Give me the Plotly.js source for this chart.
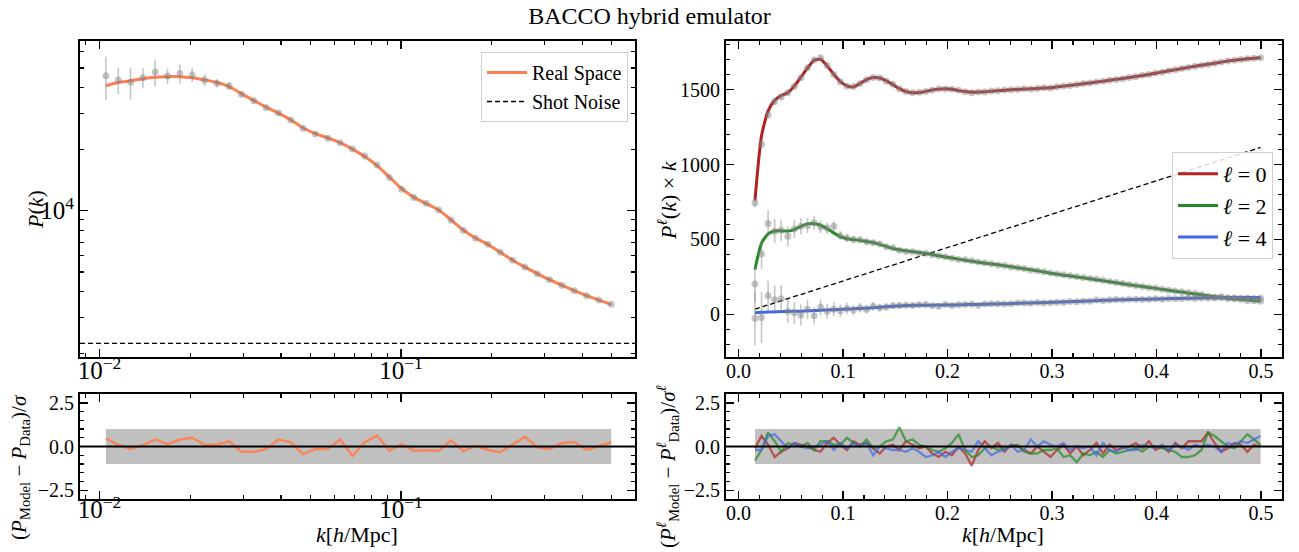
<!DOCTYPE html>
<html><head><meta charset="utf-8">
<script src="https://cdn.plot.ly/plotly-3.0.1.min.js"></script>
<style>html,body{margin:0;padding:0;background:#fff}#plot{width:1299px;height:552px}</style>
</head><body><div id="plot"></div>
<script>
// ---------- Real-space panel (log-spaced k) ----------
const kReal = [0.01050,0.01154,0.01268,0.01393,0.01530,0.01681,0.01847,0.02029,0.02230,0.02450,
  0.02691,0.02957,0.03249,0.03569,0.03922,0.04309,0.04734,0.05201,0.05715,0.06279,
  0.06898,0.07579,0.08327,0.09149,0.1005,0.1104,0.1213,0.1333,0.1465,0.1609,
  0.1768,0.1943,0.2134,0.2345,0.2576,0.2831,0.3110,0.3417,0.3754,0.4125,0.4532,0.4979];
const pRealData = [45800,43600,42500,44800,47800,45600,46900,46200,43600,42100,
  40800,37100,34500,32000,30100,27800,25300,23700,22600,21500,
  20000,18500,16700,14500,12700,11600,10850,10050,8980,8000,
  7310,6830,6240,5700,5290,4900,4580,4300,4040,3820,3640,3470];
const pRealErr = [11000,6500,7700,5000,7200,3900,5100,3700,3000,1900,
  1800,1100,900,700,600,500,420,360,320,280,
  240,200,180,160,140,120,100,90,80,70,
  60,55,50,45,40,36,32,29,26,24,22,20];
const pRealModel = [40900,42400,43300,44300,45000,45300,45300,44800,43700,42400,
  40500,37400,34600,32100,30000,27800,25400,23800,22700,21500,
  20000,18400,16600,14600,12800,11600,10800,10050,9000,8030,
  7330,6820,6240,5710,5280,4910,4580,4300,4050,3830,3640,3470];
const residReal = [0.45,0.1,-0.14,0.08,0.4,0.14,0.4,0.5,0.1,0.1,
  0.3,-0.3,-0.3,-0.15,0.4,0.24,-0.43,-0.15,-0.14,0.4,
  -0.53,0.24,0.63,-0.24,0.14,-0.24,-0.22,-0.26,0.35,-0.26,
  0.04,-0.2,-0.33,0.1,0.55,-0.04,-0.14,0.2,0.26,-0.2,0.0,0.24];
const shotNoise = 2230;

// ---------- Multipoles panel (linear k) ----------
const kPole = [0.0157,0.0220,0.0283,0.0346,0.0408,0.0471,0.0534,0.0597,0.0660,0.0723,
  0.0785,0.0848,0.0911,0.0974,0.1037,0.1100,0.1162,0.1225,0.1288,0.1351,
  0.1414,0.1477,0.1539,0.1602,0.1665,0.1728,0.1791,0.1854,0.1916,0.1979,
  0.2042,0.2105,0.2168,0.2231,0.2293,0.2356,0.2419,0.2482,0.2545,0.2608,
  0.2670,0.2733,0.2796,0.2859,0.2922,0.2985,0.3047,0.3110,0.3173,0.3236,
  0.3299,0.3362,0.3424,0.3487,0.3550,0.3613,0.3676,0.3738,0.3801,0.3864,
  0.3927,0.3990,0.4053,0.4115,0.4178,0.4241,0.4304,0.4367,0.4430,0.4492,
  0.4555,0.4618,0.4681,0.4744,0.4807,0.4869,0.4932,0.4995];
const p0Model = [760,1192,1358,1428,1460,1479,1524,1583,1644,1695,
  1702,1658,1602,1553,1525,1518,1540,1567,1580,1577,
  1558,1533,1506,1486,1479,1480,1488,1497,1503,1505,
  1502,1493,1487,1483,1483,1485,1489,1493,1496,1499,
  1501,1503,1505,1507,1510,1512,1518,1523,1528,1533,
  1539,1544,1550,1556,1562,1568,1574,1580,1587,1594,
  1601,1609,1617,1625,1632,1640,1648,1655,1662,1669,
  1676,1683,1690,1696,1701,1705,1709,1712];
const p0Data = [745,1135,1330,1420,1450,1478,1522,1580,1645,1698,
  1712,1660,1600,1552,1522,1520,1541,1565,1580,1578,
  1556,1535,1505,1487,1478,1482,1487,1496,1505,1503,
  1502,1495,1486,1478,1484,1483,1490,1492,1497,1498,
  1501,1505,1503,1507,1512,1510,1518,1523,1527,1534,
  1540,1543,1551,1555,1562,1568,1573,1580,1586,1595,
  1600,1610,1616,1625,1632,1641,1647,1655,1663,1667,
  1675,1684,1690,1695,1701,1706,1709,1712];
const p0Err = [30,25,22,20,18,17,16,15,14,14,
  13,13,12,12,12,11,11,11,10,10,
  10,10,10,9,9,9,9,9,9,9,
  8,8,8,8,8,8,8,8,8,8,
  8,8,8,8,8,8,8,8,8,8,
  8,8,8,8,8,8,8,8,8,8,
  8,8,8,8,8,8,8,8,8,8,
  8,8,8,8,8,8,8,8];
const p2Model = [300,476,537,557,558,556,566,588,604,605,
  595,572,544,519,505,499,494,486,480,467,
  454,440,431,425,419,413,407,400,391,383,
  376,369,362,355,348,342,337,331,325,318,
  311,305,298,291,283,275,269,262,257,250,
  244,238,232,225,218,211,204,198,192,186,
  180,174,167,161,155,149,143,137,131,125,
  119,114,108,104,100,96,92,89];
const p2Data = [203,404,606,555,562,521,570,588,593,611,
  584,577,588,525,510,500,498,485,478,470,
  452,445,428,420,418,410,408,398,392,385,
  374,366,364,358,350,344,338,330,326,317,
  312,306,297,292,285,276,270,265,258,253,
  246,240,234,228,220,213,206,200,193,187,
  180,174,168,162,157,152,146,140,133,120,
  114,111,108,104,100,92,92,88];
const p2Err = [120,100,90,80,72,66,60,55,50,46,
  42,38,35,30,27,24,22,20,18,17,
  16,15,14,14,13,13,12,12,11,11,
  10,10,10,10,9,9,9,9,9,9,
  8,8,8,8,8,8,8,8,8,8,
  7,7,7,7,7,7,7,7,7,7,
  7,7,7,7,7,7,7,7,7,7,
  7,7,7,7,7,7,7,7];
const p4Model = [11,14,16,18,19,20,21,22,24,26,
  28,30,32,34,36,38,40,42,45,48,
  52,55,57,59,60,61,62,62,63,63,
  63,64,65,66,67,68,69,70,71,73,
  74,76,77,78,79,81,82,84,85,87,
  88,90,92,94,95,97,98,99,100,101,
  102,103,104,105,106,107,108,109,110,111,
  112,112,112,113,113,113,113,113];
const p4Data = [-25,-21,125,98,105,22,11,-4,34,-9,
  48,22,35,25,40,30,45,35,55,45,
  50,58,60,62,60,64,66,58,55,66,
  60,64,66,68,62,70,72,72,70,72,
  76,76,74,80,76,78,82,80,86,85,
  88,88,96,92,96,100,98,102,102,100,
  102,104,102,106,104,106,110,107,110,110,
  112,118,110,112,110,110,107,110];
const p4Err = [180,170,100,95,90,80,75,70,64,58,
  54,50,46,42,38,35,32,30,28,26,
  24,22,20,19,18,17,16,15,14,14,
  13,13,12,12,12,11,11,11,11,10,
  10,10,10,10,10,10,10,10,10,10,
  10,10,10,10,10,10,10,10,10,10,
  10,10,10,10,10,10,10,10,10,10,
  10,10,10,10,10,10,10,10];
const resid0 = [-0.1,0.6,0.1,-0.6,-0.3,-0.1,0.2,0.1,0.0,-0.2,
  -0.3,0.2,0.5,0.1,-0.2,0.3,0.1,0.2,-0.1,-0.4,
  0.0,0.1,-0.2,0.3,0.1,-0.1,0.0,-0.4,-0.6,-0.3,
  -0.5,0.0,-0.4,-1.1,-0.2,0.3,-0.1,0.2,-0.3,0.1,
  0.0,-0.2,-0.4,0.0,-0.3,-0.6,-0.2,0.1,-0.4,0.0,
  -0.5,-0.2,0.2,-0.4,0.1,-0.2,-0.1,0.0,0.2,-0.1,
  0.3,-0.2,0.0,-0.3,0.2,-0.1,0.3,0.3,0.3,0.8,
  0.2,-0.3,-0.1,0.2,0.1,-0.3,0.1,0.0];
const resid2 = [-0.8,-0.2,0.8,0.3,-0.3,0.2,0.1,0.0,0.2,-0.2,
  0.3,0.3,0.1,0.1,0.5,0.2,0.0,0.4,-0.1,0.0,
  0.3,0.4,1.1,0.3,0.4,0.1,0.0,-0.2,-0.3,-0.1,
  0.2,0.7,-0.2,-0.6,-0.5,-0.1,0.0,-0.2,-0.1,0.0,
  0.1,-0.3,-0.4,-0.4,-0.2,-0.2,-0.1,-0.6,-0.5,-0.9,
  -0.4,-0.5,-0.3,-0.6,-0.2,-0.4,-0.3,-0.2,-0.1,-0.3,
  0.0,0.0,-0.1,-0.2,-0.3,-0.6,-0.6,-0.5,-0.2,0.8,
  0.6,0.3,0.0,-0.1,0.3,0.7,0.4,0.1];
const resid4 = [-0.2,-0.2,0.6,0.7,0.3,-0.1,0.2,0.0,-0.1,0.0,
  0.1,0.3,-0.2,0.2,-0.1,0.2,0.0,0.2,-0.5,0.0,
  -0.1,-0.2,-0.2,-0.3,-0.1,-0.3,-0.6,-0.5,-0.3,-0.6,
  -0.3,-0.1,-0.2,-0.3,0.3,-0.1,-0.5,-0.3,-0.2,0.1,
  -0.3,-0.2,0.4,0.0,0.3,0.1,0.0,0.2,-0.2,0.0,
  -0.1,0.0,-0.5,0.2,-0.2,-0.3,0.0,-0.2,-0.2,0.1,
  0.0,-0.1,0.1,-0.2,0.1,0.0,-0.2,0.1,0.0,0.1,
  0.0,-0.3,0.2,0.1,0.3,0.2,0.4,0.6];

const poleNames = ['<i>ℓ</i> = 0', '<i>ℓ</i> = 2', '<i>ℓ</i> = 4'];
const sigmaBand = 1;

// ---------- styling ----------
const SERIF = 'Liberation Serif';
const C_ORANGE = '#FF7F50', C_RED = '#B22222', C_GREEN = '#228B22', C_BLUE = '#4169E1';
const GRAY_PT = 'rgba(128,128,128,0.45)';
const xLogRange = [-2.0647, -0.2239];
const xLinRange = [-0.012, 0.520];
const TICKFONT = {family: SERIF, size: 20, color: 'black'};

function ax(extra) {
  const minorBase = {ticks: 'inside', ticklen: 4, tickwidth: 1.2, tickcolor: 'black', showgrid: false};
  const base = {
    showline: true, linecolor: 'black', linewidth: 2, mirror: 'allticks',
    ticks: 'inside', ticklen: 8, tickwidth: 1.5, tickcolor: 'black',
    showgrid: false, zeroline: false, tickfont: TICKFONT
  };
  const out = Object.assign(base, extra);
  out.minor = Object.assign(minorBase, extra.minor || {});
  return out;
}

const traces = [];
// left top
traces.push({x: kReal, y: pRealModel, mode: 'lines', line: {color: C_ORANGE, width: 3, shape: 'spline', smoothing: 0.6},
  name: 'Real Space', xaxis: 'x', yaxis: 'y', legend: 'legend'});
traces.push({x: [Math.pow(10, xLogRange[0]), Math.pow(10, xLogRange[1])], y: [shotNoise, shotNoise], mode: 'lines',
  line: {color: 'black', width: 1.3, dash: '5px,3px'}, name: 'Shot Noise', xaxis: 'x', yaxis: 'y', legend: 'legend'});
traces.push({x: kReal, y: pRealData, mode: 'markers', marker: {color: GRAY_PT, size: 7},
  error_y: {type: 'data', array: pRealErr, visible: true, color: GRAY_PT, thickness: 1.6, width: 0},
  showlegend: false, xaxis: 'x', yaxis: 'y'});
// left bottom
traces.push({x: kReal.concat(kReal.slice().reverse()), y: kReal.map(() => sigmaBand).concat(kReal.map(() => -sigmaBand)),
  fill: 'toself', fillcolor: '#c0c0c0', line: {width: 0}, mode: 'lines', showlegend: false, xaxis: 'x2', yaxis: 'y2', hoverinfo: 'skip'});
traces.push({x: kReal, y: residReal, mode: 'lines', line: {color: C_ORANGE, width: 2.5}, opacity: 0.9,
  showlegend: false, xaxis: 'x2', yaxis: 'y2'});

// right top
traces.push({x: kPole, y: kPole.map(k => shotNoise * k), mode: 'lines', line: {color: 'black', width: 1.3, dash: '5px,3px'},
  showlegend: false, xaxis: 'x3', yaxis: 'y3'});
const models = [p0Model, p2Model, p4Model], datas = [p0Data, p2Data, p4Data], errs = [p0Err, p2Err, p4Err];
const cols = [C_RED, C_GREEN, C_BLUE], resids = [resid0, resid2, resid4];
for (let i = 0; i < 3; i++) {
  traces.push({x: kPole, y: models[i], mode: 'lines', line: {color: cols[i], width: 3, shape: 'spline', smoothing: 0.6},
    name: poleNames[i], xaxis: 'x3', yaxis: 'y3', legend: 'legend2'});
}
for (let i = 0; i < 3; i++) {
  traces.push({x: kPole, y: datas[i], mode: 'markers', marker: {color: GRAY_PT, size: 7},
    error_y: {type: 'data', array: errs[i], visible: true, color: GRAY_PT, thickness: 1.6, width: 0},
    showlegend: false, xaxis: 'x3', yaxis: 'y3'});
}
// right bottom
traces.push({x: kPole.concat(kPole.slice().reverse()), y: kPole.map(() => sigmaBand).concat(kPole.map(() => -sigmaBand)),
  fill: 'toself', fillcolor: '#c0c0c0', line: {width: 0}, mode: 'lines', showlegend: false, xaxis: 'x4', yaxis: 'y4', hoverinfo: 'skip'});
for (let i = 0; i < 3; i++) {
  traces.push({x: kPole, y: resids[i], mode: 'lines', line: {color: cols[i], width: 2.3}, opacity: 0.7,
    showlegend: false, xaxis: 'x4', yaxis: 'y4'});
}

const W = 1299, H = 552;
const px = v => v / W, py = v => (H - v) / H;
const dLeft = [px(80), px(635)], dRight = [px(726), px(1282)];
const dTop = [py(357), py(41)], dBot = [py(499), py(394)];

const residAxis = {domain: dBot, range: [-3, 3], tickvals: [-2.5, 0, 2.5], tickformat: '.1f', minor: {dtick: 0.5, tick0: 0}};
const XSTAND_LOG = -9, XSTAND_LOG_BOT = -12, XSTAND_LIN = -5;

function ann(text, x, y, size, angle) {
  return {text: text, x: px(x), y: py(y), xref: 'paper', yref: 'paper', xanchor: 'center', yanchor: 'middle',
    textangle: angle || 0, showarrow: false, font: {family: SERIF, size: size, color: 'black'}};
}

const layout = {
  width: W, height: H, margin: {l: 0, r: 0, t: 0, b: 0},
  paper_bgcolor: 'white', plot_bgcolor: 'white',
  font: {family: SERIF, color: 'black'},
  title: {text: 'BACCO hybrid emulator', font: {family: SERIF, size: 24, color: 'black'},
    x: 0.5, xanchor: 'center', y: 1 - 16 / H, yanchor: 'middle', yref: 'container'},
  xaxis: ax({domain: dLeft, anchor: 'y', type: 'log', range: xLogRange, dtick: 1, exponentformat: 'power', ticklabelstandoff: XSTAND_LOG, minor: {dtick: 'D1'}}),
  yaxis: ax({domain: dTop, anchor: 'x', type: 'log', range: [3.282, 4.831], dtick: 1, exponentformat: 'power', minor: {dtick: 'D1'}}),
  xaxis2: ax({domain: dLeft, anchor: 'y2', type: 'log', range: xLogRange, dtick: 1, exponentformat: 'power', ticklabelstandoff: XSTAND_LOG_BOT, minor: {dtick: 'D1'}}),
  yaxis2: ax(Object.assign({anchor: 'x2'}, residAxis)),
  xaxis3: ax({domain: dRight, anchor: 'y3', range: xLinRange, dtick: 0.1, tick0: 0, tickformat: '.1f', ticklabelstandoff: XSTAND_LIN, minor: {dtick: 0.02, tick0: 0}}),
  yaxis3: ax({domain: dTop, anchor: 'x3', range: [-284, 1824], dtick: 500, tick0: 0, minor: {dtick: 100, tick0: 0}}),
  xaxis4: ax({domain: dRight, anchor: 'y4', range: xLinRange, dtick: 0.1, tick0: 0, tickformat: '.1f', ticklabelstandoff: XSTAND_LIN, minor: {dtick: 0.02, tick0: 0}}),
  yaxis4: ax(Object.assign({anchor: 'x4'}, residAxis)),
  legend: {x: px(628), y: py(52), xanchor: 'right', yanchor: 'top', bgcolor: 'rgba(255,255,255,0.85)',
    bordercolor: '#d0d0d0', borderwidth: 1, font: {family: SERIF, size: 20, color: 'black'}, itemwidth: 40},
  legend2: {x: px(1273), y: py(152), xanchor: 'right', yanchor: 'top', bgcolor: 'rgba(255,255,255,0.85)',
    bordercolor: '#d0d0d0', borderwidth: 1, font: {family: SERIF, size: 22, color: 'black'}, itemwidth: 40},
  shapes: [
    {type: 'line', xref: 'x2 domain', yref: 'y2', x0: 0, x1: 1, y0: 0, y1: 0, line: {color: 'black', width: 2}},
    {type: 'line', xref: 'x4 domain', yref: 'y4', x0: 0, x1: 1, y0: 0, y1: 0, line: {color: 'black', width: 2}}
  ],
  annotations: [
    ann('<i>P</i>(<i>k</i>)', 35, 210, 22, -90),
    ann('<i>P</i><sup><i>ℓ</i></sup>(<i>k</i>) × <i>k</i>', 667, 200, 22, -90),
    ann('(<i>P</i><sub>Model</sub> − <i>P</i><sub>Data</sub>)/<i>σ</i>', 20, 467, 21, -90),
    ann('(<i>P</i><sup><i>ℓ</i></sup><sub>Model</sub> − <i>P</i><sup><i>ℓ</i></sup><sub>Data</sub>)/<i>σ</i><sup><i>ℓ</i></sup>', 667, 467, 21, -90),
    ann('<i>k</i>[<i>h</i>/Mpc]', 357, 534, 22, 0),
    ann('<i>k</i>[<i>h</i>/Mpc]', 1003, 534, 22, 0)
  ]
};

Plotly.newPlot('plot', traces, layout, {displayModeBar: false, staticPlot: true});
</script>
</body></html>
